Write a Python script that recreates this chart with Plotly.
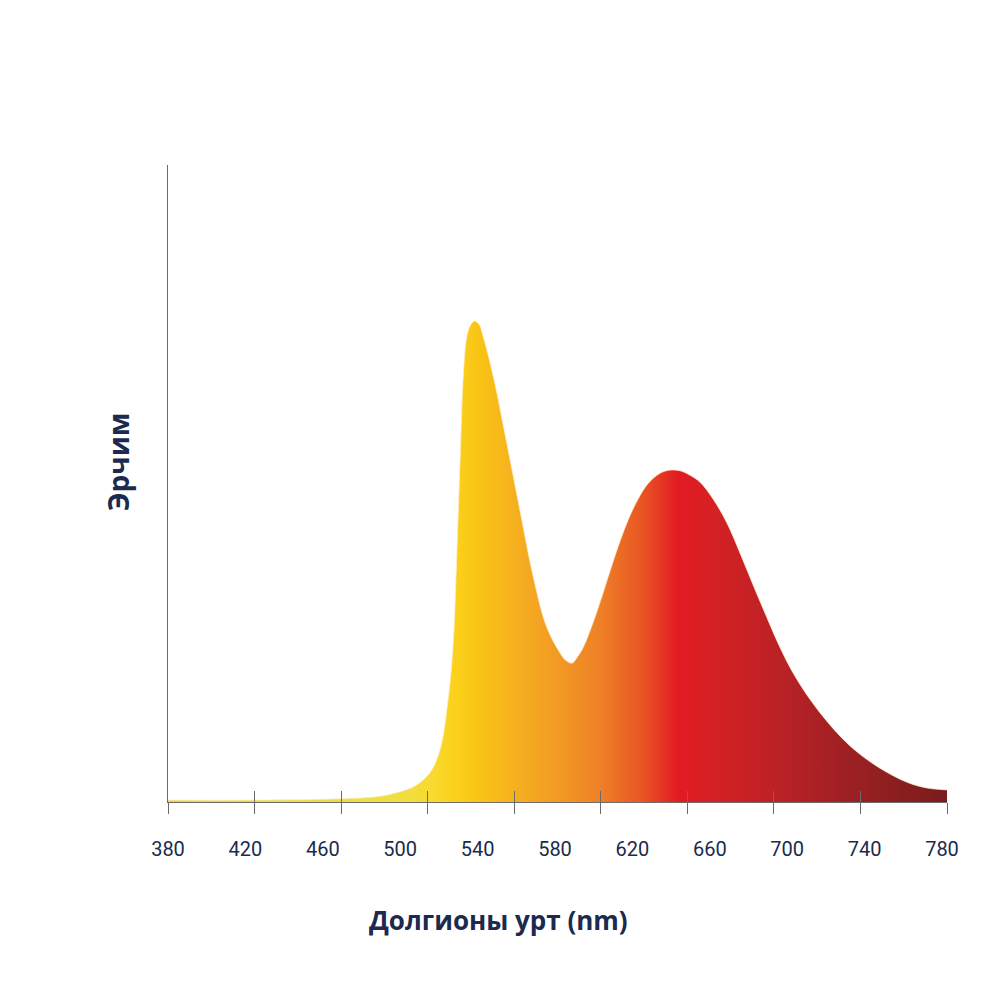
import plotly.graph_objects as go

# Spectrum data (wavelength nm, relative intensity)
wavelength = [380.0, 424.7, 468.3, 488.9, 499.1, 506.8, 514.5, 519.7, 523.8, 526.5,
              527.9, 529.1, 530.3, 531.6, 533.4, 535.1, 537.3, 539.7, 541.9, 547.1,
              553.9, 560.7, 567.6, 574.4, 581.3, 584.4, 587.4, 590.5, 593.1, 598.2,
              603.4, 608.5, 613.6, 618.8, 626.0, 632.6, 637.8, 642.9, 648.0, 653.2,
              659.8, 667.0, 673.7, 680.4, 687.6, 694.2, 700.9, 709.7, 719.9, 731.7,
              745.6, 759.5, 769.7, 780.0]
intensity = [0.3, 0.3, 0.5, 0.9, 1.6, 2.5, 4.6, 8.2, 16.0, 25.0,
             35.3, 45.8, 56.4, 66.7, 73.0, 74.7, 75.5, 75.0, 73.0, 66.7,
             56.4, 45.8, 35.3, 27.5, 23.4, 22.2, 21.8, 22.9, 24.2, 28.1,
             32.8, 37.7, 42.2, 46.0, 49.8, 51.6, 52.1, 52.0, 51.3, 50.2,
             47.6, 43.8, 39.1, 34.1, 28.9, 24.3, 20.3, 16.1, 12.1, 8.4,
             5.3, 3.1, 2.2, 1.9]

tick_marks = [380 + k * 400 / 9 for k in range(10)]
tick_labels = [380, 420, 460, 500, 540, 580, 620, 660, 700, 740, 780]

x_title = "Долгионы урт (nm)"
y_title = "Эрчим"

gradient = [
    [0.0, "#e6da4c"], [0.30, "#f0df40"], [0.34, "#f8da2e"], [0.37, "#fbd01a"],
    [0.40, "#f9c415"], [0.45, "#f5ae20"], [0.50, "#f39a24"], [0.555, "#ee8027"],
    [0.61, "#e85424"], [0.655, "#e31b22"], [0.70, "#d52124"], [0.79, "#b92126"],
    [0.89, "#982022"], [1.0, "#7a1c1c"],
]

navy = "#1b2a4e"
axis_col = "#6b6b6b"

fig = go.Figure()
fig.add_trace(go.Scatter(
    x=wavelength, y=intensity, mode="lines",
    line=dict(shape="spline", smoothing=1.0, width=1, color="rgba(255,235,200,0.7)"),
    fill="tozeroy", fillgradient=dict(type="horizontal", colorscale=gradient),
    hoverinfo="skip", showlegend=False,
))
# invisible traces to anchor extra axes
fig.add_trace(go.Scatter(x=[380, 780], y=[0, 0], xaxis="x2", mode="markers",
                         marker=dict(opacity=0), hoverinfo="skip", showlegend=False))
fig.add_trace(go.Scatter(x=[380, 780], y=[0, 0], xaxis="x3", mode="markers",
                         marker=dict(opacity=0), hoverinfo="skip", showlegend=False))

label_top = 780 + 5 * 400 / 774

fig.update_layout(
    width=1000, height=1000,
    margin=dict(l=160, r=61, t=157, b=206),
    paper_bgcolor="white", plot_bgcolor="white",
    xaxis=dict(range=[380, 780], tickvals=tick_marks, ticks="outside", ticklen=11,
               tickcolor=axis_col, tickwidth=1, showticklabels=False, showline=True,
               linecolor=axis_col, linewidth=1, showgrid=False, zeroline=False),
    xaxis2=dict(range=[380, 780], overlaying="x", side="bottom", tickvals=tick_marks[1:],
                ticks="inside", ticklen=11, tickcolor=axis_col, tickwidth=1,
                showticklabels=False, showline=False, showgrid=False, zeroline=False),
    xaxis3=dict(range=[380, label_top], overlaying="x", side="bottom", tickvals=tick_labels,
                ticktext=[str(v) for v in tick_labels], ticks="", showline=False,
                showgrid=False, zeroline=False, ticklabelstandoff=33,
                tickfont=dict(family="Roboto, sans-serif", size=20, color=navy)),
    yaxis=dict(range=[0, 100], showline=True, linecolor=axis_col, linewidth=1,
               showticklabels=False, ticks="", showgrid=False, zeroline=False),
    annotations=[
        dict(text=f"<b>{x_title}</b>", xref="paper", yref="paper", x=(498 - 168) / 779,
             y=(802 - 920) / 637, xanchor="center", yanchor="middle", showarrow=False,
             font=dict(family="Open Sans, sans-serif", size=26, color=navy)),
        dict(text=f"<b>{y_title}</b>", xref="paper", yref="paper", x=(118 - 168) / 779,
             y=(802 - 462) / 637, xanchor="center", yanchor="middle", showarrow=False,
             textangle=-90, font=dict(family="Open Sans, sans-serif", size=28, color=navy)),
    ],
)

fig.write_html("out.html")
